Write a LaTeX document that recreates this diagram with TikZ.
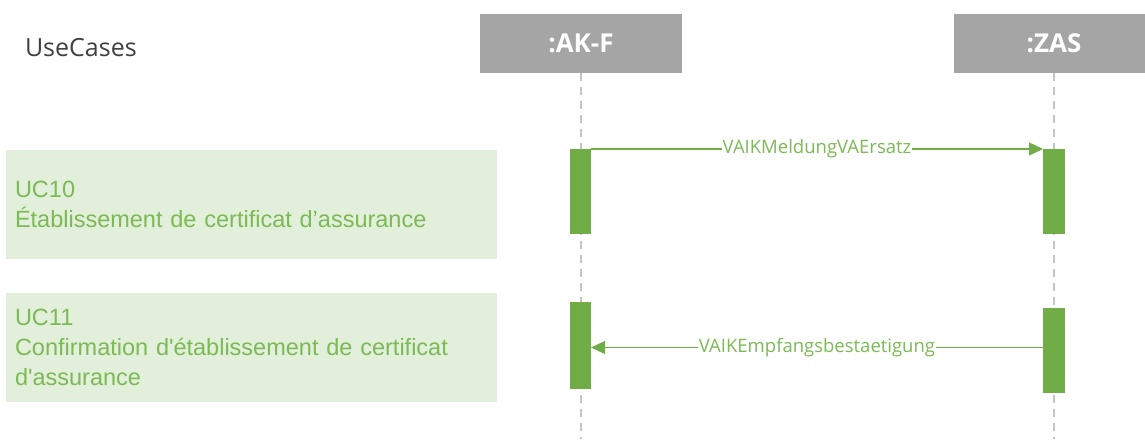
\documentclass[tikz,border=0pt]{standalone}
\usepackage{fontspec}
\setmainfont{Liberation Sans}
\newfontfamily\segoe{Open Sans}
\usetikzlibrary{arrows.meta,positioning}
\definecolor{hdrgray}{HTML}{A5A5A5}
\definecolor{ucgreen}{HTML}{70AD47}
\definecolor{uclight}{HTML}{E2EFDA}
\definecolor{uctext}{HTML}{7CBA55}
\definecolor{lifegray}{HTML}{C4C4C4}
\definecolor{titlegray}{HTML}{404040}

\begin{document}
\begin{tikzpicture}[x=1pt,y=-1pt,
    every node/.style={inner sep=0pt,outer sep=0pt},
    header/.style={fill=hdrgray,minimum width=202pt,minimum height=59pt,
      text=white,font=\segoe\bfseries\fontsize{26}{30}\selectfont},
    lifeline/.style={draw=lifegray,dash pattern=on 8pt off 6pt,line width=1.2pt},
    bar/.style={fill=ucgreen,minimum width=21pt},
    usecase/.style={fill=uclight,minimum width=491pt,minimum height=109pt,
      text width=473pt,align=left,text=uctext,font=\fontsize{23.5}{30}\selectfont},
    msg/.style={draw=ucgreen,line width=1.2pt,-{Triangle[length=14pt,width=13pt]}},
    msglabel/.style={fill=white,text=uctext,inner xsep=1pt,
      font=\segoe\fontsize{18.5}{20}\selectfont}]
  \useasboundingbox (0,0) rectangle (1145,439);

  \node[anchor=west,text=titlegray,font=\segoe\fontsize{25}{28}\selectfont]
    (title) at (25,48) {UseCases};
  \node[header] (akf) at (581,43.5) {:AK-F};
  \node[header, minimum width=200pt] (zas) at (1054,43.5) {:ZAS};
  \coordinate (akfend) at (581,439);
  \coordinate (zasend) at (1054,439);
  \draw[lifeline] (akf.south) -- (akfend);
  \draw[lifeline] (zas.south) -- (zasend);

  \node[usecase] (uc10) at (251.5,204.5)
    {UC10\\Établissement de certificat d’assurance};
  \node[usecase] (uc11) at (251.5,347)
    {UC11\\Confirmation d\textquotesingle établissement de certificat d\textquotesingle assurance};

  \node[bar, minimum height=85pt] (akf1) at (580.5,191.5) {};
  \node[bar, minimum height=85pt, minimum width=22pt] (zas1) at (1054,191.5) {};
  \node[bar, minimum height=87pt] (akf2) at (580.5,345.5) {};
  \node[bar, minimum height=85pt, minimum width=22pt] (zas2) at (1054,350.5) {};

  \draw[msg] (akf1.north east) -- node[msglabel]{VAIKMeldungVAErsatz} (zas1.north west);
  \draw[msg] ([yshift=3pt]zas2.west) -- node[msglabel]{VAIKEmpfangsbestaetigung}
    ([yshift=3pt]zas2.west -| akf2.east);
\end{tikzpicture}
\end{document}
